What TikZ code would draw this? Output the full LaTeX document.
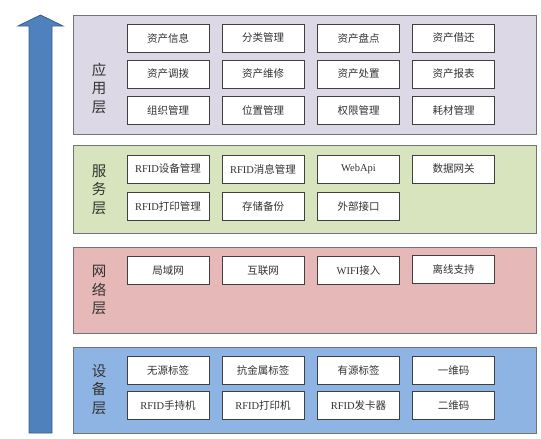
\documentclass[tikz,border=0pt]{standalone}
\usepackage{fontspec}
\setmainfont{Liberation Serif}
\newfontfamily\cjk{Noto Sans CJK SC}
\definecolor{appfill}{HTML}{DDD8E5}
\definecolor{srvfill}{HTML}{D7E4BD}
\definecolor{netfill}{HTML}{E6B9B8}
\definecolor{devfill}{HTML}{8EB4E3}
\definecolor{arrfill}{HTML}{4F81BD}
\definecolor{arrdraw}{HTML}{385D8A}
\begin{document}
\begin{tikzpicture}[x=1pt,y=-1pt,
  layer/.style={draw=black!55, line width=1pt, minimum width=463pt, inner sep=0pt},
  item/.style={draw=black!75, fill=white, line width=1pt, minimum width=82pt, minimum height=28pt, inner sep=0pt, font=\fontsize{10.5}{12}\selectfont, text=black!80},
  lbl/.style={align=center, inner sep=0pt, font=\cjk\fontsize{14.5}{18.5}\selectfont, text=black!80},
  bigarrow/.style={fill=arrfill, draw=arrdraw, line width=0.8pt}]
\useasboundingbox (0,0) rectangle (541,439);
% arrow
\draw[bigarrow] (29,433) -- (29,26) -- (18,26) -- (40.5,15) -- (63,26) -- (52,26) -- (52,433) -- cycle;
% layers
\node[layer, fill=appfill, minimum height=119pt] (app) at (304.5,74.5) {};
\node[layer, fill=srvfill, minimum height=88pt] (srv) at (304.5,189) {};
\node[layer, fill=netfill, minimum height=86pt] (net) at (304.5,290) {};
\node[layer, fill=devfill, minimum height=86pt] (dev) at (304.5,390) {};
% labels
\node[lbl] (appl) at (99,88) {应\\用\\层};
\node[lbl] (srvl) at (99,189.5) {服\\务\\层};
\node[lbl] (netl) at (99,290) {网\\络\\层};
\node[lbl] (devl) at (99,389.5) {设\\备\\层};
% application layer
\node[item] (a11) at (168,38) {\cjk 资产信息};
\node[item] (a12) at (263,38) {\cjk 分类管理};
\node[item] (a13) at (358.5,38) {\cjk 资产盘点};
\node[item] (a14) at (453.5,38) {\cjk 资产借还};
\node[item] (a21) at (168,74) {\cjk 资产调拨};
\node[item] (a22) at (263,74) {\cjk 资产维修};
\node[item] (a23) at (358.5,74) {\cjk 资产处置};
\node[item] (a24) at (453.5,74) {\cjk 资产报表};
\node[item] (a31) at (168,110.5) {\cjk 组织管理};
\node[item] (a32) at (263,110.5) {\cjk 位置管理};
\node[item] (a33) at (358.5,110.5) {\cjk 权限管理};
\node[item] (a34) at (453.5,110.5) {\cjk 耗材管理};
% service layer
\node[item] (s11) at (168,169) {RFID{\cjk 设备管理}};
\node[item] (s12) at (263,169) {RFID{\cjk 消息管理}};
\node[item] (s13) at (358.5,169) {WebApi};
\node[item] (s14) at (453.5,169) {\cjk 数据网关};
\node[item] (s21) at (168,206) {RFID{\cjk 打印管理}};
\node[item] (s22) at (263,206) {\cjk 存储备份};
\node[item] (s23) at (358.5,206) {\cjk 外部接口};
% network layer
\node[item] (n11) at (168,270.5) {\cjk 局域网};
\node[item] (n12) at (263,270.5) {\cjk 互联网};
\node[item] (n13) at (358.5,270.5) {WIFI{\cjk 接入}};
\node[item] (n14) at (453.5,269) {\cjk 离线支持};
% device layer
\node[item] (d11) at (168,370.5) {\cjk 无源标签};
\node[item] (d12) at (263,370.5) {\cjk 抗金属标签};
\node[item] (d13) at (358.5,370.5) {\cjk 有源标签};
\node[item] (d14) at (453.5,370.5) {\cjk 一维码};
\node[item] (d21) at (168,405.5) {RFID{\cjk 手持机}};
\node[item] (d22) at (263,405.5) {RFID{\cjk 打印机}};
\node[item] (d23) at (358.5,405.5) {RFID{\cjk 发卡器}};
\node[item] (d24) at (453.5,405.5) {\cjk 二维码};
\end{tikzpicture}
\end{document}
